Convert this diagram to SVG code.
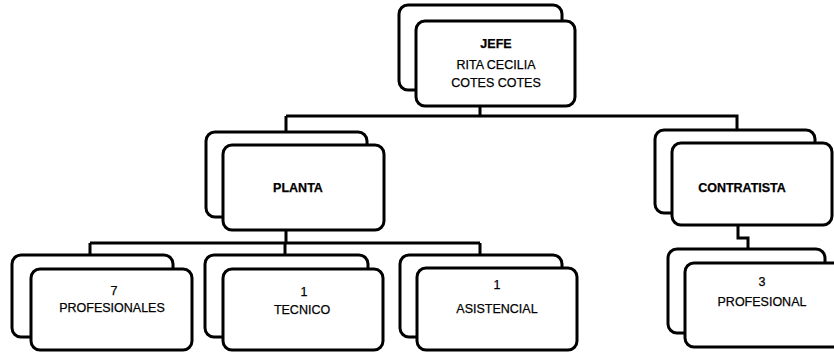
<svg xmlns="http://www.w3.org/2000/svg" width="834" height="352" viewBox="0 0 834 352">
<style>
.b{fill:#fff;stroke:#000;stroke-width:3}
.c{fill:none;stroke:#000;stroke-width:3}
text{font-family:"Liberation Sans",Arial,sans-serif;font-size:12.5px;fill:#000;stroke:#000;stroke-width:0.25;text-anchor:middle}
.bd{font-weight:bold}
</style>
<rect width="834" height="352" fill="#fff"/>
<g id="connectors">
<path class="c" d="M480 106V116M286 116H737V130M286 116V132"/>
<path class="c" d="M286 230V243M90 243H480M90 243V255M285 243V255M480 243V255"/>
<path class="c" d="M738 225V238H748V249"/>
</g>
<g id="jefe">
<rect class="b" x="399" y="5" width="163" height="85" rx="9"/>
<rect class="b" x="416" y="21" width="159" height="85" rx="9"/>
<text class="bd" x="496" y="48">JEFE</text>
<text x="496" y="69">RITA CECILIA</text>
<text x="496" y="87">COTES COTES</text>
</g>
<g id="planta">
<rect class="b" x="206" y="132" width="161" height="85" rx="9"/>
<rect class="b" x="223" y="145" width="161" height="85" rx="9"/>
<text class="bd" x="298" y="192">PLANTA</text>
</g>
<g id="contratista">
<rect class="b" x="655" y="130" width="160" height="83" rx="9"/>
<rect class="b" x="672" y="143" width="160" height="82" rx="9"/>
<text class="bd" x="742" y="192">CONTRATISTA</text>
</g>
<g id="profesionales">
<rect class="b" x="12" y="255" width="161" height="82" rx="9"/>
<rect class="b" x="31" y="269" width="161" height="81" rx="9"/>
<text x="114" y="295">7</text>
<text x="112" y="312">PROFESIONALES</text>
</g>
<g id="tecnico">
<rect class="b" x="205" y="255" width="163" height="82" rx="9"/>
<rect class="b" x="223" y="269" width="160" height="81" rx="9"/>
<text x="304" y="296">1</text>
<text x="302" y="314">TECNICO</text>
</g>
<g id="asistencial">
<rect class="b" x="400" y="255" width="162" height="82" rx="9"/>
<rect class="b" x="417" y="268" width="160" height="82" rx="9"/>
<text x="497" y="289">1</text>
<text x="497" y="313">ASISTENCIAL</text>
</g>
<g id="profesional">
<rect class="b" x="668" y="249" width="157" height="84" rx="9"/>
<rect class="b" x="685" y="263" width="160" height="84" rx="9"/>
<text x="762" y="286">3</text>
<text x="762" y="306">PROFESIONAL</text>
</g>
</svg>
